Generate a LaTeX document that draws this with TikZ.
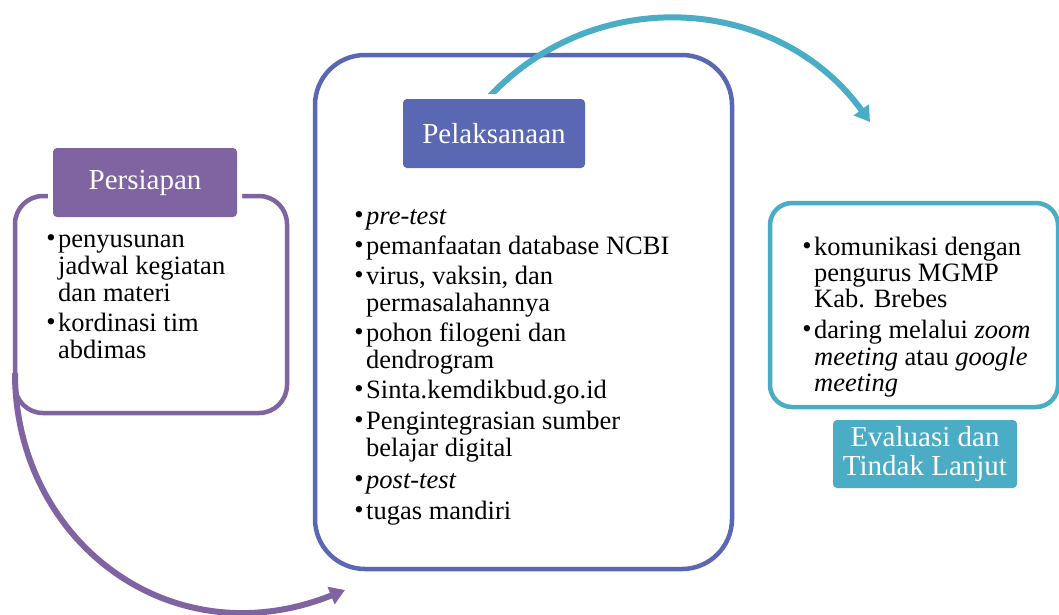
\documentclass[tikz,border=0pt]{standalone}
\usepackage{fontspec}
\setmainfont{Liberation Serif}
\usetikzlibrary{arrows.meta}
\definecolor{cpurple}{HTML}{8064A2}
\definecolor{cblue}{HTML}{5A67B3}
\definecolor{cteal}{HTML}{4BACC6}
\newcommand{\blt}{\llap{\raisebox{0.3pt}{\textbullet}\hspace{2.5pt}}}
\begin{document}
\begin{tikzpicture}[x=1pt,y=1pt,
  bigbox/.style={draw=#1, line width=4.5pt, inner sep=0pt, fill=white},
  labelbox/.style={fill=#1, text=white, rounded corners=4pt, inner sep=0pt,
    font=\fontsize{29}{29.5}\selectfont, align=center,
    preaction={draw=white, line width=10pt}},
  listtxt/.style={anchor=base west, inner sep=0pt, font=\fontsize{26.5}{27}\selectfont},
  cyclearrow/.style={draw=#1, line width=6pt, -{Triangle[length=15pt,width=18pt]}}
]
\useasboundingbox (0,0) rectangle (1059,-614);

% big boxes
\node[bigbox=cpurple, rounded corners=28pt, minimum width=272pt, minimum height=217pt] (prepbox) at (151,-304.5) {};
\node[bigbox=cblue, rounded corners=50pt, minimum width=417pt, minimum height=514pt] (execbox) at (523.5,-312) {};
\node[bigbox=cteal, rounded corners=22pt, minimum width=288pt, minimum height=204pt] (evalbox) at (914,-305) {};

% cycle arrows
\coordinate (pstart) at (15,-373);
\coordinate (pend) at (345,-590);
\coordinate (tstart) at (489,-97);
\coordinate (tend) at (870,-122);
\draw[cyclearrow=cpurple] (pstart) .. controls (15,-540) and (170,-660) .. (pend);
\draw[cyclearrow=cteal] (tstart) .. controls (598,19) and (780,3) .. (tend);

% label boxes
\node[labelbox=cpurple, minimum width=184pt, minimum height=69pt] (prep) at (145,-182.5) {Persiapan};
\node[labelbox=cblue, minimum width=182pt, minimum height=69pt] (exec) at (494,-133.5) {Pelaksanaan};
\node[labelbox=cteal, minimum width=184pt, minimum height=68pt] (eval) at (925,-454) {Evaluasi dan\\Tindak Lanjut};

% Persiapan list
\node[listtxt] (p1) at (58,-247) {\blt penyusunan};
\node[listtxt] (p2) at (58,-274) {jadwal kegiatan};
\node[listtxt] (p3) at (58,-301) {dan materi};
\node[listtxt] (p4) at (58,-331) {\blt kordinasi tim};
\node[listtxt] (p5) at (58,-358) {abdimas};

% Pelaksanaan list
\node[listtxt] (e1) at (366,-224) {\blt\textit{pre-test}};
\node[listtxt] (e2) at (366,-254) {\blt pemanfaatan database NCBI};
\node[listtxt] (e3) at (366,-284) {\blt virus, vaksin, dan};
\node[listtxt] (e4) at (366,-311) {permasalahannya};
\node[listtxt] (e5) at (366,-341) {\blt pohon filogeni dan};
\node[listtxt] (e6) at (366,-368) {dendrogram};
\node[listtxt] (e7) at (366,-398) {\blt Sinta.kemdikbud.go.id};
\node[listtxt] (e8) at (366,-429) {\blt Pengintegrasian sumber};
\node[listtxt] (e9) at (366,-456) {belajar digital};
\node[listtxt] (e10) at (366,-488) {\blt\textit{post-test}};
\node[listtxt] (e11) at (366,-519) {\blt tugas mandiri};

% Evaluasi list
\node[listtxt] (v1) at (814,-255) {\blt komunikasi dengan};
\node[listtxt] (v2) at (814,-281) {pengurus MGMP};
\node[listtxt] (v3) at (814,-307) {Kab. Brebes};
\node[listtxt] (v4) at (814,-338) {\blt daring melalui \textit{zoom}};
\node[listtxt] (v5) at (814,-365) {\textit{meeting} atau \textit{google}};
\node[listtxt] (v6) at (814,-391) {\textit{meeting}};
\end{tikzpicture}
\end{document}
